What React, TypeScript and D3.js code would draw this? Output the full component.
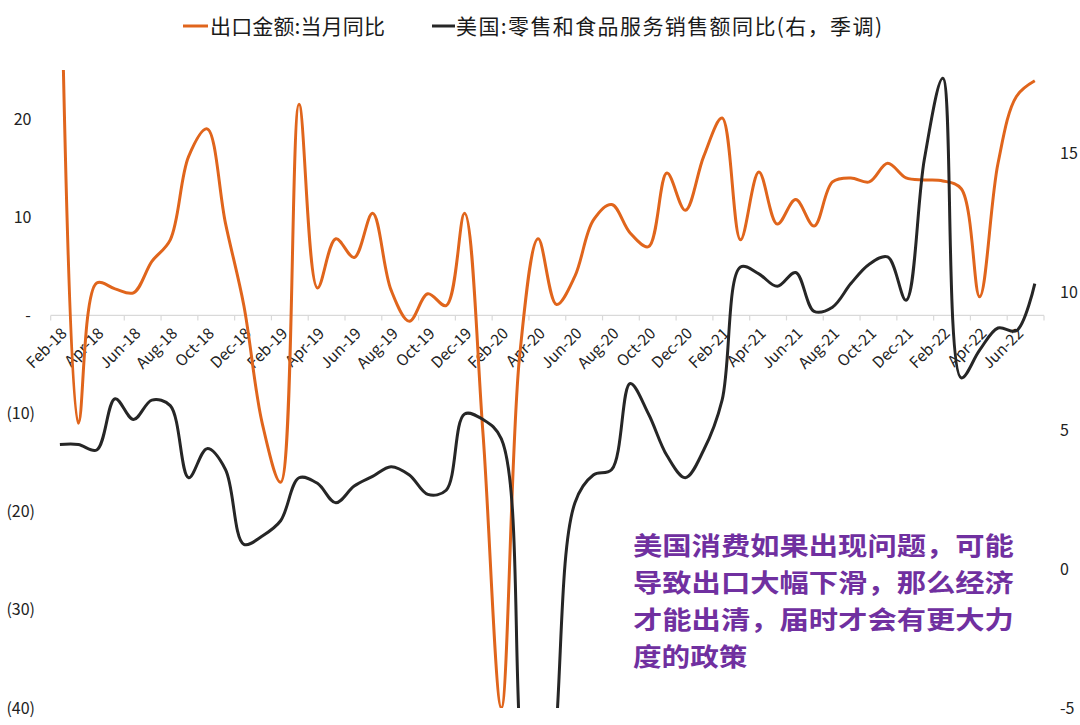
import * as d3 from "d3"

// categories (monthly, Feb-18 .. Jul-22)
const months = [
  "Feb-18", "Mar-18", "Apr-18", "May-18", "Jun-18", "Jul-18", "Aug-18", "Sep-18", "Oct-18", "Nov-18", "Dec-18",
  "Jan-19", "Feb-19", "Mar-19", "Apr-19", "May-19", "Jun-19", "Jul-19", "Aug-19", "Sep-19", "Oct-19", "Nov-19", "Dec-19",
  "Jan-20", "Feb-20", "Mar-20", "Apr-20", "May-20", "Jun-20", "Jul-20", "Aug-20", "Sep-20", "Oct-20", "Nov-20", "Dec-20",
  "Jan-21", "Feb-21", "Mar-21", "Apr-21", "May-21", "Jun-21", "Jul-21", "Aug-21", "Sep-21", "Oct-21", "Nov-21", "Dec-21",
  "Jan-22", "Feb-22", "Mar-22", "Apr-22", "May-22", "Jun-22", "Jul-22",
]

// 出口金额:当月同比 (left axis, %)
const exportYoY = [
  44, -11, 3.3, 2.7, 2.3, 5.5, 7.7, 16.2, 19, 9.4, 1.0,
  -11, -17, 21.5, 2.8, 7.8, 5.9, 10.4, 2.6, -0.6, 2.2, 1.0, 10.4,
  -12, -40, -4, 7.8, 1.1, 4.0, 9.7, 11.3, 8.4, 7.0, 14.5, 10.7,
  16.2, 20.1, 7.7, 14.6, 9.3, 11.8, 9.1, 13.6, 14.0, 13.6, 15.5, 14.0,
  13.8, 13.7, 12.9, 1.9, 15.5, 22.3, 23.9,
]

// 美国:零售和食品服务销售额同比 (right axis, %)
const usRetailYoY = [
  4.5, 4.5, 4.3, 6.15, 5.4, 6.1, 5.9, 3.3, 4.35, 3.6, 0.9,
  1.2, 1.75, 3.3, 3.1, 2.4, 3.0, 3.35, 3.7, 3.4, 2.7, 2.85, 5.6,
  5.4, 4.7, -6, -20, -5.6, 2.4, 3.4, 3.6, 6.7, 5.6, 4.1, 3.3,
  4.3, 6.1, 10.9, 10.65, 10.2, 10.7, 9.3, 9.45, 10.3, 11.0, 11.26, 9.7,
  14.8, 17.7, 6.9, 7.9, 8.7, 8.6, 10.3,
]

const leftTicks = [20, 10, 0, -10, -20, -30, -40]
const rightTicks = [15, 10, 5, 0, -5]

const seriesNames = ["出口金额:当月同比", "美国:零售和食品服务销售额同比(右，季调)"]
const noteLines = [
  "美国消费如果出现问题，可能",
  "导致出口大幅下滑，那么经济",
  "才能出清，届时才会有更大力",
  "度的政策",
]

const width = 1080
const height = 725
const plot = { left: 50.7, right: 1044, top: 70, bottom: 708 }
const orange = "#E0651C"
const dark = "#262626"
const font = "'Noto Sans CJK SC', 'Noto Sans', sans-serif"

function fmtLeft(v: number) {
  if (v === 0) return "-"
  if (v < 0) return `(${Math.abs(v)})`
  return `${v}`
}

export default function App() {
  const x = d3.scaleBand<string>().domain(months).range([plot.left, plot.right])
  const bw = x.bandwidth()
  const cx = (i: number) => (x(months[i]) as number) + bw / 2

  const yL = d3.scaleLinear().domain([-40, 25]).range([plot.bottom, plot.top])
  const yR = d3.scaleLinear().domain([-5, 18]).range([plot.bottom, plot.top])

  const lineL = d3
    .line<number>()
    .x((_, i) => cx(i))
    .y((d) => yL(d))
    .curve(d3.curveCatmullRom)
  const lineR = d3
    .line<number>()
    .x((_, i) => cx(i))
    .y((d) => yR(d))
    .curve(d3.curveCatmullRom)

  const axisY = yL(0)
  const tickIdx = d3.range(0, months.length + 1, 2)
  const tickX = (i: number) => (i < months.length ? (x(months[i]) as number) : plot.right)

  // note block: per-line width follows char count (13 chars ~ 385px)
  const noteSize = 25.5
  const noteCharW = 385 / 13

  return (
    <>
      <style>{`body{margin:0}`}</style>
      <svg width={width} height={height} style={{ display: "block", background: "#fff", fontFamily: font }}>
        <defs>
          <clipPath id="plotClip">
            <rect x={plot.left - 10} y={plot.top} width={plot.right - plot.left + 20} height={plot.bottom - plot.top} />
          </clipPath>
        </defs>

        {/* legend */}
        <g fontSize={21} fill="#1a1a1a">
          <line x1={183} x2={208} y1={26} y2={26} stroke={orange} strokeWidth={3} />
          <text x={210} y={34} textLength={175} lengthAdjust="spacing">{seriesNames[0]}</text>
          <line x1={432} x2={455} y1={26} y2={26} stroke={dark} strokeWidth={3} />
          <text x={456} y={34} textLength={426} lengthAdjust="spacing">{seriesNames[1]}</text>
        </g>

        {/* x axis */}
        <line x1={plot.left} x2={plot.right} y1={axisY} y2={axisY} stroke="#d9d9d9" strokeWidth={1.2} />
        {tickIdx.map((i) => (
          <line key={i} x1={tickX(i)} x2={tickX(i)} y1={axisY} y2={axisY + 5} stroke="#d9d9d9" strokeWidth={1.2} />
        ))}
        <g fontSize={15.5} fill="#222">
          {months.map((m, i) =>
            i % 2 === 0 ? (
              <text key={m} textAnchor="end" transform={`translate(${cx(i) + 8},${axisY + 19}) rotate(-45)`}>
                {m}
              </text>
            ) : null
          )}
        </g>

        {/* left axis labels */}
        <g fontSize={16} fill="#222">
          {leftTicks.map((t) => (
            <text
              key={t}
              x={t === 0 ? 28 : t < 0 ? 35 : 31.5}
              y={yL(t)}
              dy="0.35em"
              textAnchor={t === 0 ? "middle" : "end"}
            >
              {fmtLeft(t)}
            </text>
          ))}
        </g>

        {/* right axis labels */}
        <g fontSize={16} fill="#222">
          {rightTicks.map((t) => (
            <text key={t} x={1060} y={yR(t)} dy="0.35em">
              {t}
            </text>
          ))}
        </g>

        {/* series */}
        <g clipPath="url(#plotClip)">
          <path d={lineL(exportYoY) ?? ""} fill="none" stroke={orange} strokeWidth={3} strokeLinejoin="round" />
          <path d={lineR(usRetailYoY) ?? ""} fill="none" stroke={dark} strokeWidth={3} strokeLinejoin="round" />
        </g>

        {/* annotation */}
        <g fontSize={noteSize} fontWeight={700} fill="#7030A0">
          {noteLines.map((l, i) => (
            <text
              key={i}
              x={633}
              y={555 + i * 37}
              textLength={noteCharW * l.length - (noteCharW - noteSize)}
              lengthAdjust="spacingAndGlyphs"
            >
              {l}
            </text>
          ))}
        </g>
      </svg>
    </>
  )
}
